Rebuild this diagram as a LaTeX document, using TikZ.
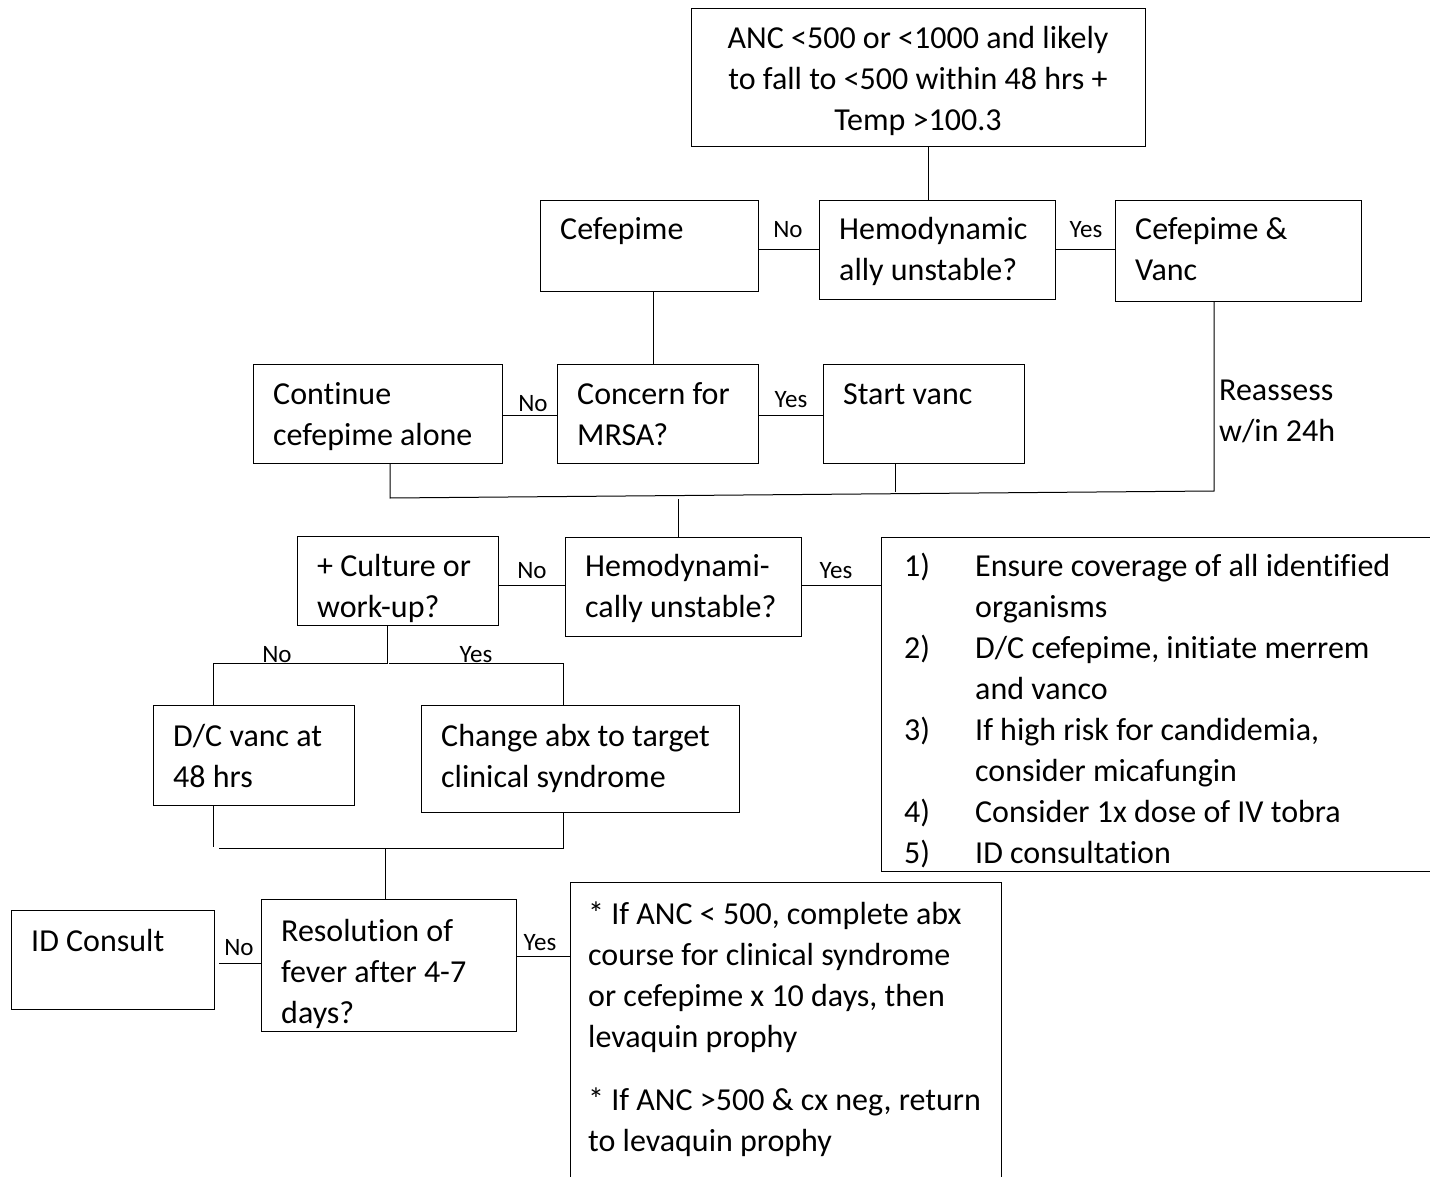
\documentclass[tikz,border=0pt]{standalone}
\usepackage{fontspec}
\setmainfont{Carlito}[Ligatures=NoCommon]
\usetikzlibrary{calc}
\newcommand{\tl}[1]{\begin{tabular}[t]{@{}l@{}}#1\end{tabular}}
\newcommand{\tc}[1]{\begin{tabular}[t]{@{}c@{}}#1\end{tabular}}
\newcommand{\bx}[5]{\node[box, minimum width={#4-#2}, minimum height={#5-#3}, anchor=north west] (#1) at (#2,#3) {};}
\begin{document}
\begin{tikzpicture}[x=1pt,y=-1pt,
  box/.style={draw, line width=1pt, inner sep=0pt},
  txt/.style={inner sep=0pt, font=\fontsize{32}{41}\selectfont},
  lab/.style={inner sep=0pt, font=\fontsize{25}{28}\selectfont},
  con/.style={line width=1pt}]
\useasboundingbox[fill=white] (0,0) rectangle (1430,1177);
% boxes
\bx{top}{691}{8}{1145}{146}
\bx{cef}{540}{200}{758}{291}
\bx{hemo}{819}{200}{1055}{299}
\bx{cefv}{1115}{200}{1361}{301}
\bx{cont}{253}{364}{502}{463}
\bx{mrsa}{557}{364}{758}{463}
\bx{startv}{823}{364}{1024}{463}
\bx{cult}{297}{536}{498}{625}
\bx{hemo2}{565}{537}{801}{636}
\bx{list}{881}{537}{1445}{871}
\bx{dcv}{153}{705}{354}{805}
\bx{chg}{421}{705}{739}{812}
\bx{idc}{11}{910}{214}{1009}
\bx{res}{261}{899}{516}{1031}
\bx{fin}{570}{882}{1001}{1195}
% texts
\node[txt, anchor=base] (top-t) at (918,49) {\tc{ANC <500 or <1000 and likely\\to fall to <500 within 48 hrs +\\Temp >100.3}};
\node[txt, anchor=base west] (cef-t) at (560,240) {\tl{Cefepime}};
\node[txt, anchor=base west] (hemo-t) at (839,240) {\tl{Hemodynamic\\ally unstable?}};
\node[txt, anchor=base west] (cefv-t) at (1135,240) {\tl{Cefepime \&\\Vanc}};
\node[txt, anchor=base west] (cont-t) at (273,404) {\tl{Continue\\cefepime alone}};
\node[txt, anchor=base west] (mrsa-t) at (577,404) {\tl{Concern for\\MRSA?}};
\node[txt, anchor=base west] (startv-t) at (843,404) {\tl{Start vanc}};
\node[txt, anchor=base west] (reas-t) at (1219,400) {\tl{Reassess\\w/in 24h}};
\node[txt, anchor=base west] (cult-t) at (317,576) {\tl{+ Culture or\\work-up?}};
\node[txt, anchor=base west] (hemo2-t) at (585,576) {\tl{Hemodynami-\\cally unstable?}};
\node[txt, anchor=base west] (list-t) at (904,576) {\begin{tabular}[t]{@{}p{71pt}@{}l@{}}
1) & Ensure coverage of all identified\\
   & organisms\\
2) & D/C cefepime, initiate merrem\\
   & and vanco\\
3) & If high risk for candidemia,\\
   & consider micafungin\\
4) & Consider 1x dose of IV tobra\\
5) & ID consultation
\end{tabular}};
\node[txt, anchor=base west] (dcv-t) at (173,746) {\tl{D/C vanc at\\48 hrs}};
\node[txt, anchor=base west] (chg-t) at (441,746) {\tl{Change abx to target\\clinical syndrome}};
\node[txt, anchor=base west] (idc-t) at (31,951) {\tl{ID Consult}};
\node[txt, anchor=base west] (res-t) at (281,941) {\tl{Resolution of\\fever after 4-7\\days?}};
\node[txt, anchor=base west] (fin-t) at (588,924) {\tl{* If ANC < 500, complete abx\\course for clinical syndrome\\or cefepime x 10 days, then\\levaquin prophy\\[22pt]* If ANC >500 \& cx neg, return\\to levaquin prophy}};
% junctions
\coordinate (j1) at (1214,491);
\coordinate (j2) at (390,498);
\coordinate (j3) at (895,492);
\coordinate (j4) at (678,499);
\coordinate (j5) at (387,663);
\coordinate (j6) at (213,663);
\coordinate (j7) at (389,663);
\coordinate (j8) at (563,663);
\coordinate (j9) at (213,847);
\coordinate (j10) at (563,848);
\coordinate (j11) at (219,848);
\coordinate (j12) at (385,848);
\coordinate (j13) at (219,963);
% connectors
\draw[con] (928,0 |- top.south) -- (928,0 |- hemo.north);
\draw[con] (cef.east |- 0,250) -- (hemo.west |- 0,250);
\draw[con] (hemo.east |- 0,250) -- (cefv.west |- 0,250);
\draw[con] (653,0 |- cef.south) -- (653,0 |- mrsa.north);
\draw[con] (cont.east |- 0,415) -- (mrsa.west |- 0,415);
\draw[con] (mrsa.east |- 0,415) -- (startv.west |- 0,415);
\draw[con] (j1 |- cefv.south) -- (j1) -- (j2) -- (j2 |- cont.south);
\draw[con] (j3 |- startv.south) -- (j3);
\draw[con] (j4) -- (j4 |- hemo2.north);
\draw[con] (cult.east |- 0,585) -- (hemo2.west |- 0,585);
\draw[con] (hemo2.east |- 0,585) -- (list.west |- 0,585);
\draw[con] (j5 |- cult.south) -- (j5) -- (j6) -- (j6 |- dcv.north);
\draw[con] (j7) -- (j8) -- (j8 |- chg.north);
\draw[con] (j9 |- dcv.south) -- (j9);
\draw[con] (j10 |- chg.south) -- (j10) -- (j11);
\draw[con] (j12) -- (j12 |- res.north);
\draw[con] (j13) -- (res.west |- j13);
\draw[con] (res.east |- 0,956) -- (fin.west |- 0,956);
% labels
\node[lab, anchor=base] (l1) at (788,238) {No};
\node[lab, anchor=base] (l2) at (1086,238) {Yes};
\node[lab, anchor=base] (l3) at (533,411) {No};
\node[lab, anchor=base] (l4) at (791,407) {Yes};
\node[lab, anchor=base] (l5) at (532,578) {No};
\node[lab, anchor=base] (l6) at (836,578) {Yes};
\node[lab, anchor=base] (l7) at (277,662) {No};
\node[lab, anchor=base] (l8) at (476,662) {Yes};
\node[lab, anchor=base] (l9) at (239,955) {No};
\node[lab, anchor=base] (l10) at (540,950) {Yes};
\end{tikzpicture}
\end{document}
